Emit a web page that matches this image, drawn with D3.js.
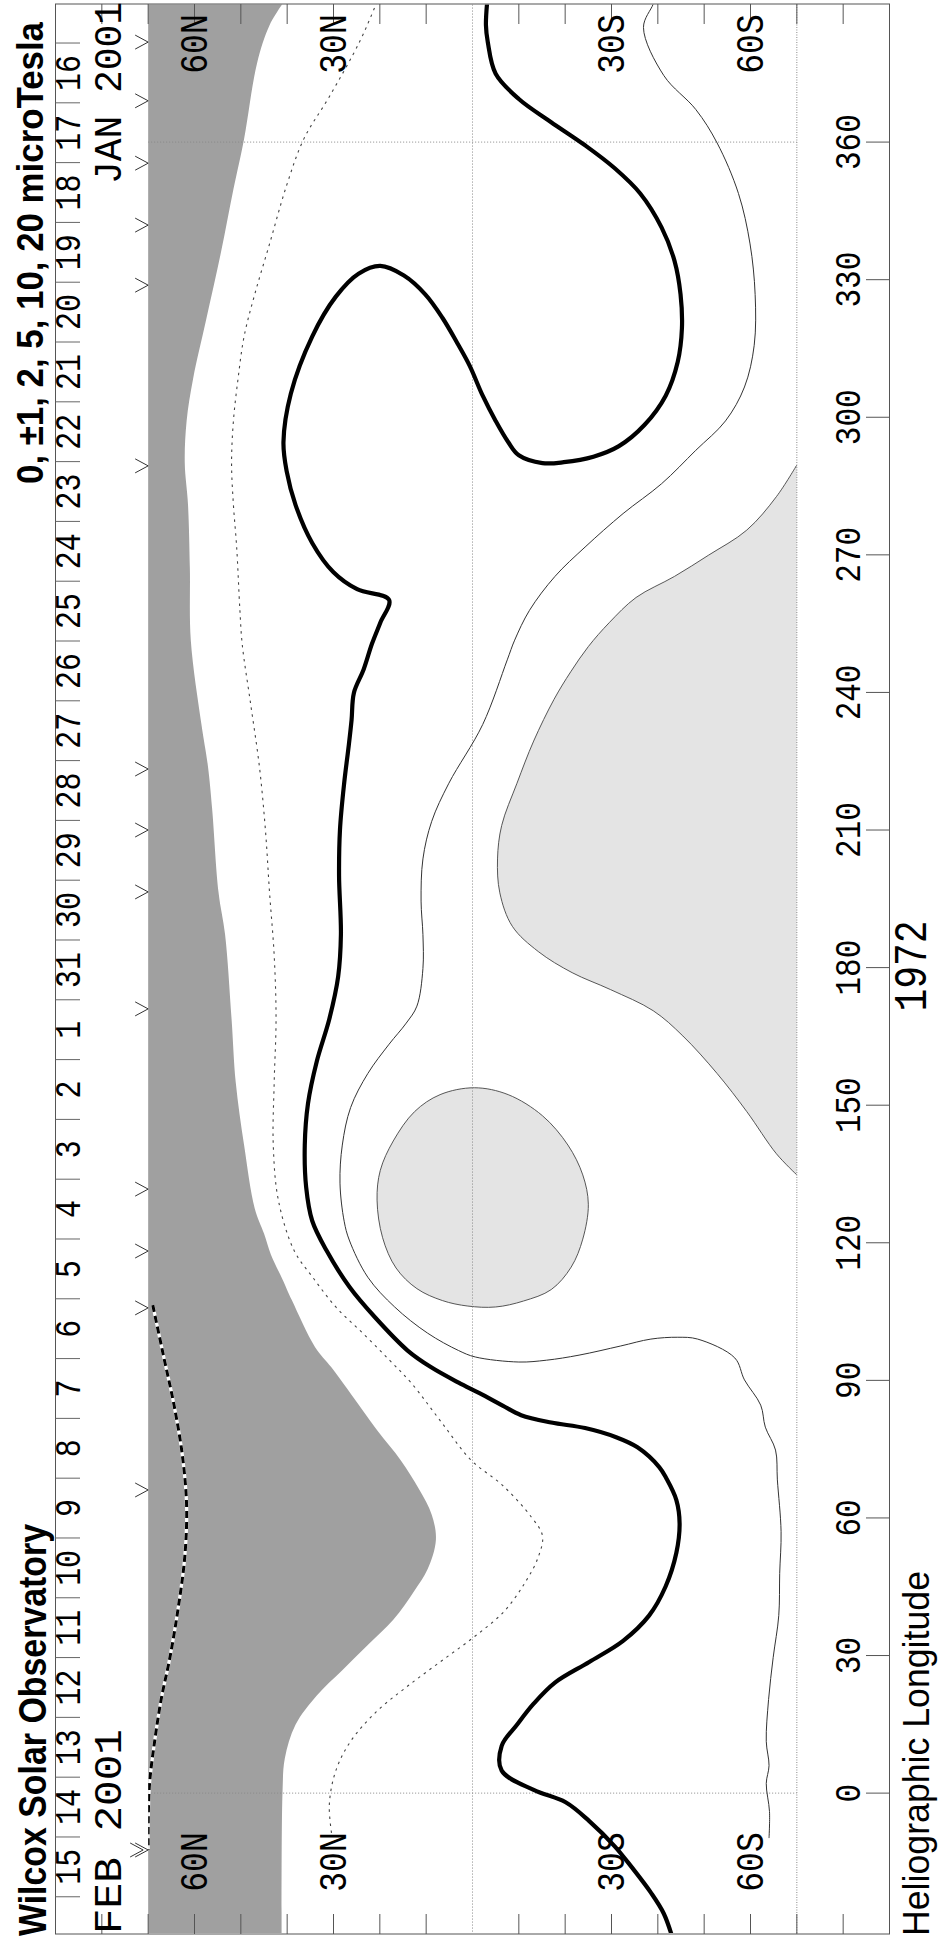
<!DOCTYPE html>
<html><head><meta charset="utf-8">
<script src="https://cdn.jsdelivr.net/npm/d3@7"></script>
<style>html,body{margin:0;padding:0;background:#fff;}svg{display:block;}</style>
</head><body>
<svg id="c" width="943" height="1938"></svg>
<script>
// ---------------- data (longitude deg, latitude deg) ----------------
const neutralLine = [[392,-3.3],[385.5,-2.9],[381.8,-3.3],[374.9,-5.0],[369.4,-10.0],[364.4,-16.9],[359.3,-24.3],[354.3,-30.7],[348.8,-36.2],[341.4,-40.8],[334.1,-43.6],[326.8,-44.9],[319.4,-45.2],[312.1,-44.3],[304.7,-41.7],[298.3,-37.1],[293.7,-31.6],[291.4,-26.1],[290.2,-19.7],[290.0,-15.1],[291.7,-10.0],[294.6,-7.7],[299.2,-5.0],[304.7,-2.2],[311.2,0.6],[316.2,3.3],[321.7,6.5],[326.8,10.2],[330.9,14.8],[333.0,19.9],[331.3,24.6],[326.3,29.5],[317.6,34.6],[305.2,39.2],[294.6,40.8],[288.2,40.1],[280.9,38.2],[272.6,34.6],[266.2,30.0],[262.5,24.9],[260.2,18.0],[255.2,19.9],[250.6,21.7],[245.0,23.5],[239.9,25.6],[234.0,26.1],[228.5,26.7],[220.2,27.7],[210.1,28.6],[200.0,28.8],[187.2,28.4],[178.0,29.0],[168.8,30.9],[159.6,33.6],[150.4,35.5],[141.3,36.2],[132.1,35.9],[124.8,34.6],[118.3,31.5],[110.3,26.5],[103.7,21.0],[96.5,14.0],[92.9,9.0],[89.5,3.0],[87.2,-1.5],[84.5,-6.5],[82.4,-10.5],[80.8,-17.0],[79.6,-24.3],[77.6,-31.0],[75.4,-35.6],[71.1,-40.3],[68.7,-41.8],[63.9,-44.0],[58.8,-44.7],[52.4,-44.0],[45.1,-41.7],[38.7,-38.1],[33.2,-32.5],[28.6,-25.2],[24.1,-17.8],[19.5,-13.2],[14.9,-9.6],[10.3,-6.3],[4.9,-6.3],[0.7,-13.2],[-2.0,-20.1],[-6.1,-25.2],[-11.6,-30.7],[-16.2,-34.4],[-21.7,-38.5],[-26.3,-41.3],[-32,-43.3]];

const negContour = [[392,20.0],[389.6,21.0],[381.8,24.4],[369.9,30.9],[360.7,36.4],[350.6,40.1],[337.8,43.8],[326.8,47.0],[317.6,49.3],[308.4,50.6],[299.2,51.6],[290.0,52.0],[280.9,51.6],[271.7,50.9],[257.9,50.2],[250.5,49.7],[237.6,47.9],[223.9,46.0],[210.1,44.7],[196.3,43.8],[182.6,42.8],[168.8,42.4],[155.0,42.8],[141.3,43.0],[129.3,41.9],[118.3,38.5],[112.5,34.5],[106.0,29.5],[100.3,23.7],[94.5,18.0],[89.4,13.2],[81.0,6.8],[72.6,0.3],[67.1,-6.5],[60.2,-12.7],[56.1,-15.1],[51.5,-14.2],[46.0,-11.4],[39.6,-6.8],[34.1,-0.4],[28.6,7.0],[23.1,14.3],[17.7,20.8],[11.3,26.3],[4.9,29.5],[-2.5,30.9],[-8.9,30.4]];

const posContour = [[392,-39.5],[390.1,-39.0],[385.0,-36.9],[374.5,-41.3],[367.1,-48.2],[359.8,-52.8],[348.8,-57.4],[337.8,-59.9],[326.8,-61.0],[315.7,-60.8],[306.6,-58.7],[299.2,-54.6],[292.8,-48.2],[285.5,-40.8],[279.0,-32.5],[271.7,-24.3],[265.3,-17.8],[257.9,-12.3],[251.4,-9.1],[247.1,-7.5],[233.0,-2.2],[220.2,5.1],[211.9,8.8],[203.7,10.7],[194.5,11.1],[187.2,10.7],[179.8,10.7],[171.6,12.0],[167.9,14.3],[163.3,18.0],[156.9,22.6],[149.5,26.3],[141.3,28.1],[133.0,28.6],[124.7,27.7],[120.6,26.6],[112.5,22.6],[106.0,16.8],[100.3,9.7],[96.5,3.0],[95.1,-0.6],[94.0,-10.0],[94.4,-16.0],[95.5,-23.0],[97.5,-32.0],[99.0,-38.5],[99.4,-44.3],[99.0,-48.6],[94.9,-56.6],[90.1,-58.7],[84.6,-62.2],[79.8,-63.2],[74.8,-65.4],[68.3,-65.8],[57.0,-66.6],[47.9,-66.3],[38.7,-66.1],[29.6,-64.9],[20.4,-63.9],[11.3,-63.4],[6.0,-64.0],[2.1,-63.4],[-4.0,-64.1],[-9.8,-64.0]];

const darkBoundary = [[392,40.0],[391,40.5],[385.5,43.8],[377.2,46.5],[360.7,49.3],[349.7,51.6],[335.9,54.3],[321.2,57.5],[308.4,60.3],[299.2,61.7],[290.0,62.1],[280.9,61.4],[267.1,61.0],[251.4,60.8],[233.0,58.5],[223.9,57.1],[214.7,56.2],[196.3,54.8],[187.2,53.4],[168.8,52.0],[155.0,51.1],[141.3,49.3],[127.5,47.0],[122.0,45.0],[117.4,43.5],[112.0,41.0],[107.5,39.0],[97.3,34.0],[92.9,30.5],[88.1,27.0],[79.0,20.5],[72.6,15.5],[66.2,11.5],[60.7,8.8],[55.2,7.9],[48.8,9.7],[44.2,12.5],[37.8,17.1],[32.3,22.6],[26.8,28.1],[21.3,33.6],[14.9,38.2],[7.6,40.5],[0.3,41.0],[-32,41.2]];

const southPatch = [[289.6,-70],[282.7,-65.6],[275.4,-59.2],[269.9,-50.9],[265.3,-43.6],[260.7,-35.3],[255.2,-29.5],[250.0,-25.0],[244.5,-21.2],[238.5,-17.6],[229.4,-13.2],[220.2,-9.6],[211.0,-6.3],[203.7,-5.4],[196.3,-5.9],[189.0,-8.6],[183.5,-14.2],[178.9,-21.5],[175.2,-29.8],[170.6,-39.0],[165.1,-45.4],[156.9,-52.8],[148.6,-59.2],[139.4,-65.6],[134.8,-70]];

const circlePatch = [[153.8,-0.4],[152.3,7.0],[148.6,12.5],[142.2,17.1],[135.8,19.9],[129.3,20.6],[121.1,19.4],[114.5,16.5],[110.0,12.0],[107.4,6.5],[106.2,1.0],[106.0,-5.0],[107.3,-11.0],[109.8,-17.0],[114.7,-21.3],[120.8,-23.8],[128.4,-25.0],[134.8,-23.8],[141.3,-20.6],[147.7,-15.1],[152.3,-7.7]];

const dashedTrack = [[106.4,69.0],[95.4,66.7],[84.5,64.4],[73.5,62.6],[62.5,61.7],[51.5,62.1],[40.5,63.5],[29.6,65.3],[20.4,67.2],[11.3,68.6],[2.1,69.7],[-7,70],[-12.4,70]];

const arrowLons = [381.8,369.0,355.4,341.9,328.8,289.4,223.3,210.0,196.5,171.0,131.7,118.2,105.8,66.1];
const doubleArrowLons = [-12.4];

const lonTicks = [0,30,60,90,120,150,180,210,240,270,300,330,360];
const lonGrid = [0,360];
const latTicks = [80,70,60,50,40,30,20,10,-10,-20,-30,-40,-50,-60,-70,-80];
const latLabels = [["60N",60],["30N",30],["30S",-30],["60S",-60]];
const dateDomain = [new Date(2001,0,16), new Date(2001,1,16)];
const dateLonRange = [381.6, -22.6];
const monthLabels = ["JAN 2001","FEB 2001"];
const titleText = "Wilcox Solar Observatory";
const levelsText = "0, \u00b11, 2, 5, 10, 20 microTesla";
const xAxisTitle = "Heliographic Longitude";
const rotationLabel = "1972";

// ---------------- layout ----------------
const W = 1938; // landscape width (becomes page height)
const svg = d3.select('#c');
const g = svg.append('g').attr('transform', `translate(0,${W}) rotate(-90)`);
const x = d3.scaleLinear().domain([-30.5, 390]).range([5, 1933.5]);
const y = d3.scaleLinear().domain([90, -90]).range([55.5, 889.5]);
const dateScale = d3.scaleTime().domain(dateDomain).range(dateLonRange);

const mono = "'Liberation Mono','DejaVu Sans Mono',monospace";
const sans = "'Liberation Sans',Arial,Helvetica,sans-serif";

const defs = svg.append('defs');
defs.append('clipPath').attr('id','plotclip').append('rect')
  .attr('x', x(-30.5)).attr('y', y(70)).attr('width', x(390)-x(-30.5)).attr('height', y(-70)-y(70));

const line = d3.line().x(d=>x(d[0])).y(d=>y(d[1])).curve(d3.curveCatmullRom.alpha(0.5));
const closedLine = d3.line().x(d=>x(d[0])).y(d=>y(d[1])).curve(d3.curveCatmullRomClosed.alpha(0.5));
const straight = d3.line().x(d=>x(d[0])).y(d=>y(d[1]));

const plot = g.append('g').attr('clip-path','url(#plotclip)');

// dark shaded northern region
plot.append('path')
  .attr('d', line(darkBoundary) + `L${x(-40)},${y(72)}L${x(400)},${y(72)}Z`)
  .attr('fill', '#a0a0a0');

// light shaded southern patch
plot.append('path').attr('d', line(southPatch) + 'Z').attr('fill', '#e4e4e4');
plot.append('path').attr('d', line(southPatch)).attr('fill','none').attr('stroke','#444').attr('stroke-width',0.9);

// light shaded circle
plot.append('path').attr('d', closedLine(circlePatch)).attr('fill','#e4e4e4').attr('stroke','#444').attr('stroke-width',0.9);

// grid lines
plot.append('path').attr('d', straight([[-40,0],[400,0]]))
  .attr('stroke','#888').attr('stroke-width',1).attr('stroke-dasharray','1,2').attr('fill','none');
lonGrid.forEach(l => {
  plot.append('path').attr('d', straight([[l,70],[l,-70]]))
    .attr('stroke','#888').attr('stroke-width',1).attr('stroke-dasharray','1,2').attr('fill','none');
});
g.append('path').attr('d', straight([[-30.5,-70],[390,-70]]))
  .attr('stroke','#888').attr('stroke-width',1).attr('stroke-dasharray','1,1.5').attr('fill','none');

// contours
plot.append('path').attr('d', line(negContour)).attr('fill','none')
  .attr('stroke','#444').attr('stroke-width',1.1).attr('stroke-dasharray','2.5,4.5');
plot.append('path').attr('d', line(posContour)).attr('fill','none')
  .attr('stroke','#333').attr('stroke-width',1);
plot.append('path').attr('d', line(neutralLine)).attr('fill','none')
  .attr('stroke','#000').attr('stroke-width',4.2).attr('stroke-linejoin','round');

// dashed track
plot.append('path').attr('d', line(dashedTrack)).attr('fill','none')
  .attr('stroke','#fff').attr('stroke-width',3.2);
plot.append('path').attr('d', line(dashedTrack)).attr('fill','none')
  .attr('stroke','#000').attr('stroke-width',3).attr('stroke-dasharray','7,4');

// arrows
const vEdge = y(70);
function arrow(l, off) {
  const u = x(l);
  g.append('path').attr('d', `M${u-7},${vEdge-13-off}L${u},${vEdge-off}L${u+7},${vEdge-13-off}`)
    .attr('fill','none').attr('stroke','#333').attr('stroke-width',1);
}
arrowLons.forEach(l => arrow(l, 0));
doubleArrowLons.forEach(l => { arrow(l, 0); arrow(l, 5); });

// frame
g.append('rect').attr('x', 4).attr('y', y(90)).attr('width', 1930).attr('height', y(-90)-y(90))
  .attr('fill','none').attr('stroke','#555').attr('stroke-width',1);

// latitude ticks on both ends
latTicks.forEach(lat => {
  const v = y(lat);
  g.append('line').attr('x1',4).attr('x2',24).attr('y1',v).attr('y2',v).attr('stroke','#555').attr('stroke-width',1);
  g.append('line').attr('x1',1934).attr('x2',1914).attr('y1',v).attr('y2',v).attr('stroke','#555').attr('stroke-width',1);
});

// longitude ticks + labels
lonTicks.forEach(l => {
  const u = x(l);
  g.append('line').attr('x1',u).attr('x2',u).attr('y1',866).attr('y2',y(-90)).attr('stroke','#555').attr('stroke-width',1);
  label(String(l), u, 860, {size:31, family:mono, anchor:'middle'});
});

// day separators and labels
const days = d3.timeDay.range(dateDomain[0], d3.timeDay.offset(dateDomain[1], 1));
days.forEach(d => {
  const u = x(dateScale(d));
  g.append('line').attr('x1',u).attr('x2',u).attr('y1',y(90)).attr('y2',80).attr('stroke','#666').attr('stroke-width',1);
});
days.slice(0, -1).forEach(d => {
  const u = x(dateScale(d3.timeHour.offset(d, 12)));
  label(String(d.getDate()), u, 80, {size:30, family:mono, anchor:'middle'});
});

// month labels
label(monthLabels[0], 1936, 121, {size:33, family:mono, anchor:'end', len:182});
label(monthLabels[1], 4, 121, {size:33, family:mono, anchor:'start', len:205});

// latitude labels at both ends
latLabels.forEach(([t, lat]) => {
  label(t, 1894, y(lat)+12, {size:33, family:mono, anchor:'middle'});
  label(t, 76, y(lat)+12, {size:33, family:mono, anchor:'middle'});
});

// titles
label(titleText, 2, 46, {size:33, family:sans, weight:'bold', anchor:'start', len:412});
label(levelsText, 1454, 43, {size:31, family:sans, weight:'bold', anchor:'start', len:462});
label(xAxisTitle, 2, 929, {size:30, family:sans, anchor:'start', len:365});
label(rotationLabel, 972, 926, {size:38, family:mono, anchor:'middle'});

function label(str, u, v, o) {
  const t = g.append('text')
    .attr('transform', `translate(${u},${v}) scale(1,1.2)`)
    .attr('font-family', o.family).attr('font-size', o.size)
    .attr('font-weight', o.weight || 'normal')
    .attr('text-anchor', o.anchor || 'start')
    .attr('fill', '#000')
    .text(str);
  if (o.len) t.attr('textLength', o.len).attr('lengthAdjust', 'spacingAndGlyphs');
  return t;
}
</script>
</body></html>
